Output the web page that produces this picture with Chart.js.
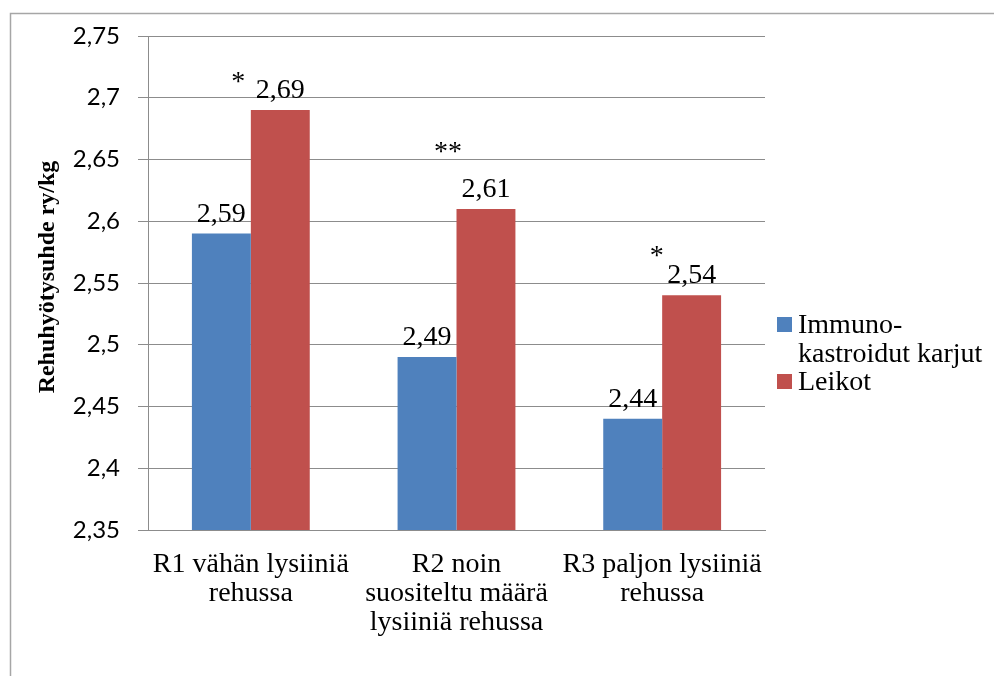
<!DOCTYPE html>
<html>
<head>
<meta charset="utf-8">
<script src="https://cdn.jsdelivr.net/npm/chart.js@4"></script>
<style>
  html, body { margin: 0; padding: 0; background: #fff; }
  #wrap { width: 994px; height: 676px; }
</style>
</head>
<body>
<div id="wrap"><canvas id="chart" width="994" height="676"></canvas></div>
<script>
// Datos
const categorias = [
  ["R1 vähän lysiiniä", "rehussa"],
  ["R2 noin", "suositeltu määrä", "lysiiniä rehussa"],
  ["R3 paljon lysiiniä", "rehussa"]
];
const immuno = [2.59, 2.49, 2.44];
const leikot = [2.69, 2.61, 2.54];
const merkit = ["*", "**", "*"];
const sarjat = [["Immuno-", "kastroidut karjut"], ["Leikot"]];
const yMin = 2.35, yMax = 2.75, yStep = 0.05;
const yOtsikko = "Rehuhyötysuhde ry/kg";

const colores = ["#4F81BD", "#C0504D"];
const serif = "'Liberation Serif', 'Times New Roman', serif";
const fmt = (v) => String(Number(v.toFixed(2))).replace(".", ",");

// Posición de los asteriscos respecto a la barra roja (centro, parte superior)
const offsetsMerkit = [[-42, -32], [-38, -61], [-35, -44]];

const extras = {
  id: "extras",
  beforeDraw(chart) {
    const ctx = chart.ctx;
    ctx.save();
    ctx.strokeStyle = "#a6a6a6";
    ctx.lineWidth = 1.5;
    ctx.beginPath();
    ctx.moveTo(10.5, 676);
    ctx.lineTo(10.5, 13.5);
    ctx.lineTo(994, 13.5);
    ctx.stroke();
    ctx.restore();
  },
  afterDraw(chart) {
    const ctx = chart.ctx;
    ctx.save();
    ctx.fillStyle = "#000";

    // Etiquetas de valor
    ctx.font = "28px " + serif;
    ctx.textAlign = "center";
    ctx.textBaseline = "alphabetic";
    chart.data.datasets.forEach((ds, i) => {
      chart.getDatasetMeta(i).data.forEach((bar, j) => {
        ctx.fillText(fmt(ds.data[j]), bar.x, bar.y - 12);
      });
    });

    // Asteriscos
    ctx.textBaseline = "middle";
    chart.getDatasetMeta(1).data.forEach((bar, j) => {
      const [dx, dy] = offsetsMerkit[j];
      ctx.fillText(merkit[j], bar.x + dx, bar.y + dy + 5);
    });

    // Título eje Y
    ctx.save();
    ctx.translate(48, 277);
    ctx.rotate(-Math.PI / 2);
    ctx.font = "bold 24px " + serif;
    ctx.textBaseline = "middle";
    ctx.fillText(yOtsikko, 0, 0);
    ctx.restore();

    // Leyenda
    ctx.font = "28px " + serif;
    ctx.textAlign = "left";
    ctx.textBaseline = "alphabetic";
    let y = 333;
    sarjat.forEach((lineas, i) => {
      ctx.fillStyle = colores[i];
      ctx.fillRect(777, y - 16, 15, 15);
      ctx.fillStyle = "#000";
      lineas.forEach((t) => {
        ctx.fillText(t, 798, y);
        y += 28.5;
      });
    });
    ctx.restore();
  }
};

new Chart(document.getElementById("chart"), {
  type: "bar",
  data: {
    labels: categorias,
    datasets: [
      { label: sarjat[0].join(""), data: immuno, backgroundColor: colores[0] },
      { label: sarjat[1].join(""), data: leikot, backgroundColor: colores[1] }
    ]
  },
  options: {
    responsive: false,
    animation: false,
    layout: { padding: { top: 36, right: 229, left: 0, bottom: 0 } },
    plugins: {
      legend: { display: false },
      tooltip: { enabled: false }
    },
    datasets: {
      bar: { barPercentage: 1, categoryPercentage: 0.573 }
    },
    scales: {
      x: {
        grid: { display: false, drawTicks: false },
        border: { display: true, color: "#8c8c8c", width: 1 },
        ticks: {
          color: "#000",
          font: { family: serif, size: 28, lineHeight: 1.04 },
          padding: 20,
          maxRotation: 0,
          autoSkip: false
        },
        afterFit: (s) => { s.height = 146; }
      },
      y: {
        min: yMin,
        max: yMax,
        grid: { color: "#8c8c8c", tickLength: 10, lineWidth: 1 },
        border: { display: true, color: "#8c8c8c", width: 1 },
        ticks: {
          stepSize: yStep,
          color: "#000",
          font: { family: "Lato, 'Open Sans', sans-serif", size: 24 },
          padding: 18,
          callback: (v) => fmt(v)
        },
        afterFit: (s) => { s.width = 148; }
      }
    }
  },
  plugins: [extras]
});
</script>
</body>
</html>
